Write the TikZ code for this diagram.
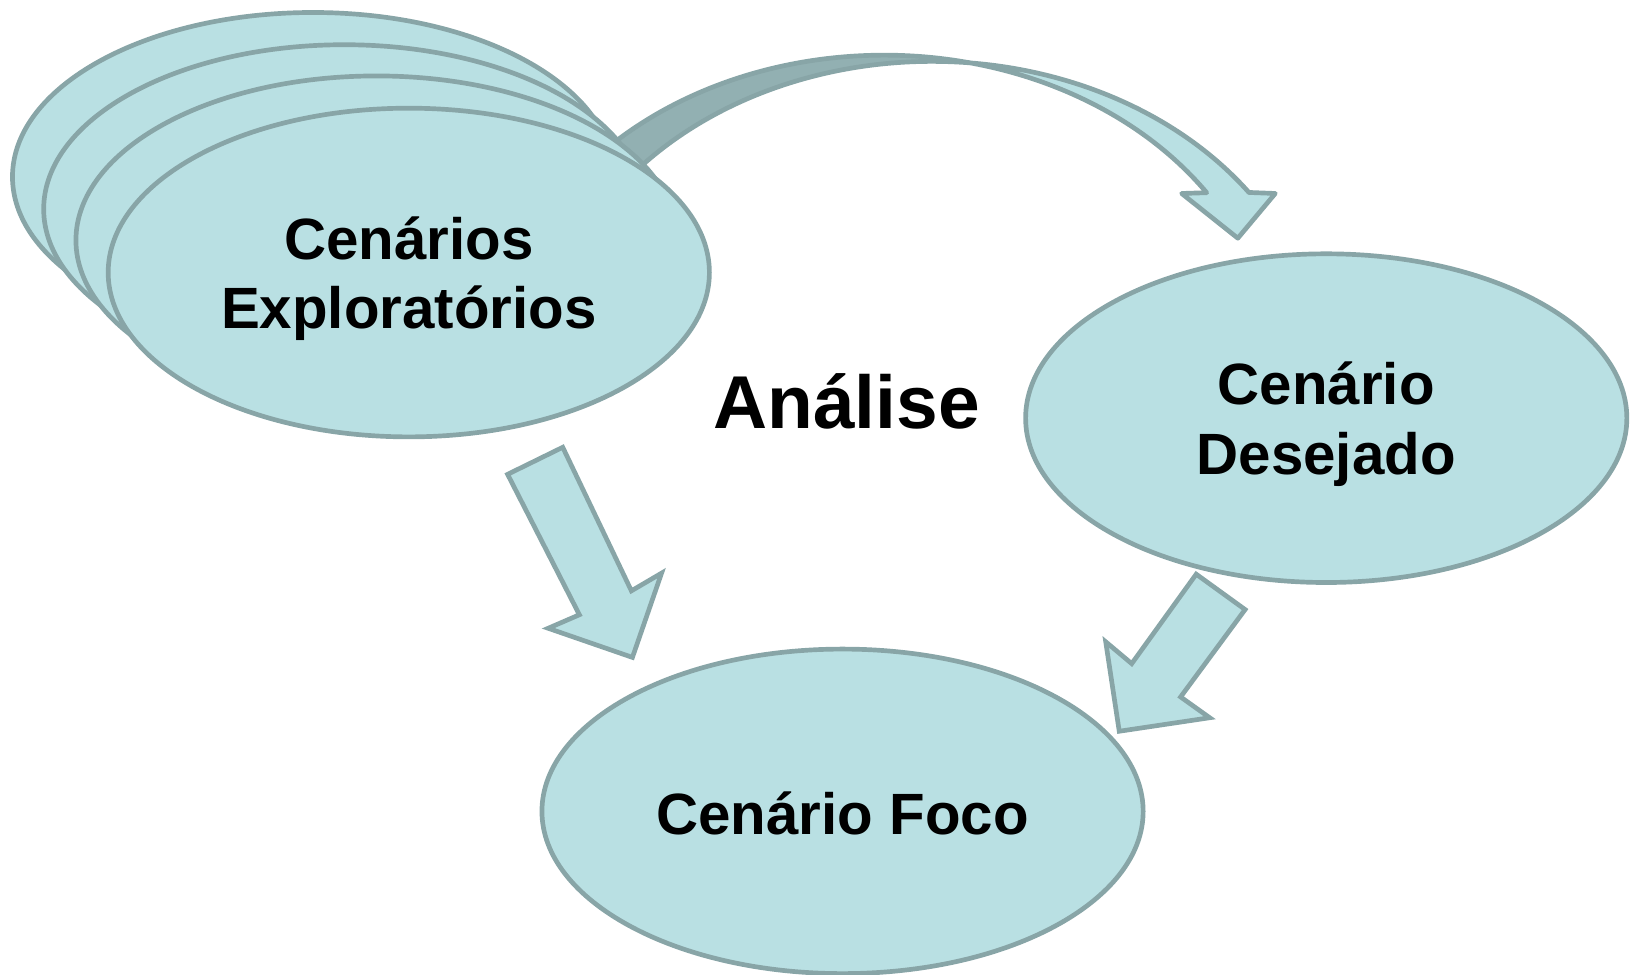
\documentclass[tikz,border=0pt]{standalone}
\usepackage{fontspec}
\setmainfont{Liberation Sans}
\usetikzlibrary{shapes.geometric,calc}
\definecolor{fillc}{RGB}{185,224,227}
\definecolor{linec}{RGB}{136,165,167}
\definecolor{darkc}{RGB}{146,176,178}
\begin{document}
\begin{tikzpicture}[x=1pt,y=1pt,line join=round]
\tikzset{
  bubble/.style={ellipse, draw=linec, fill=fillc, line width=4.5pt,
    minimum width=578pt, minimum height=316pt, inner sep=0pt},
  lbl/.style={font=\fontsize{56}{67}\selectfont\bfseries, align=center, text=black},
  blockarrow/.style={draw=linec, fill=fillc, line width=4.5pt, line join=miter},
  twist/.style={draw=linec, fill=darkc, line width=4.5pt}
}
\useasboundingbox (0,0) rectangle (1568,-937);

% curved arrow (drawn behind the stack)
\coordinate (E1c) at (850,-353);
\coordinate (E2c) at (896,-359);
\coordinate (X) at ($(E1c)+(77.33:374 and 300)$);
\draw[twist] ($(E1c)+(134:374 and 300)$) arc[start angle=134, end angle=77.33, x radius=374, y radius=300]
  -- (X) -- ($(E2c)+(84.48:374 and 300)$) arc[start angle=84.48, end angle=140, x radius=374, y radius=300] -- cycle;
\coordinate (hb1) at (1226,-186);
\coordinate (htip) at (1190,-229);
\coordinate (hb2) at (1136,-186);
\draw[blockarrow,line join=round] ($(E2c)+(84.48:374 and 300)$) arc[start angle=84.48, end angle=35.45, x radius=374, y radius=300]
  -- (hb1) -- (htip) -- (hb2)
  -- ($(E1c)+(34:374 and 300)$) arc[start angle=34, end angle=77.33, x radius=374, y radius=300] -- cycle;

% stack of exploratory scenarios
\node[bubble] (s1) at (301,-170) {};
\node[bubble] (s2) at (331,-201) {};
\node[bubble] (s3) at (362,-231) {};
\node[bubble] (s4) at (393,-262) {};
\node[lbl] (t4) at (393,-268) {Cenários\\Exploratórios};

% desired scenario
\node[bubble] (des) at (1275,-402) {};
\node[lbl] (tdes) at (1275,-408) {Cenário\\Desejado};

% focus scenario
\node[bubble, minimum height=312pt] (foco) at (810,-780) {};
\node[lbl, anchor=base] (tfoco) at (810,-802) {Cenário Foco};

% analysis label
\node[font=\fontsize{72}{86}\selectfont\bfseries, anchor=base] (an) at (814,-412) {Análise};

% block arrow 1
\coordinate (a1) at (488,-456);
\coordinate (a2) at (541,-430);
\coordinate (a3) at (607,-568);
\coordinate (a4) at (636,-551);
\coordinate (a5) at (608,-632);
\coordinate (a6) at (527,-604);
\coordinate (a7) at (557,-591);
\draw[blockarrow] (a1) -- (a2) -- (a3) -- (a4) -- (a5) -- (a6) -- (a7) -- cycle;

% block arrow 2
\coordinate (b1) at (1150,-552);
\coordinate (b2) at (1197,-586);
\coordinate (b3) at (1135,-670);
\coordinate (b4) at (1163,-690);
\coordinate (b5) at (1076,-703);
\coordinate (b6) at (1063,-617);
\coordinate (b7) at (1088,-638);
\draw[blockarrow] (b1) -- (b2) -- (b3) -- (b4) -- (b5) -- (b6) -- (b7) -- cycle;
\end{tikzpicture}
\end{document}
